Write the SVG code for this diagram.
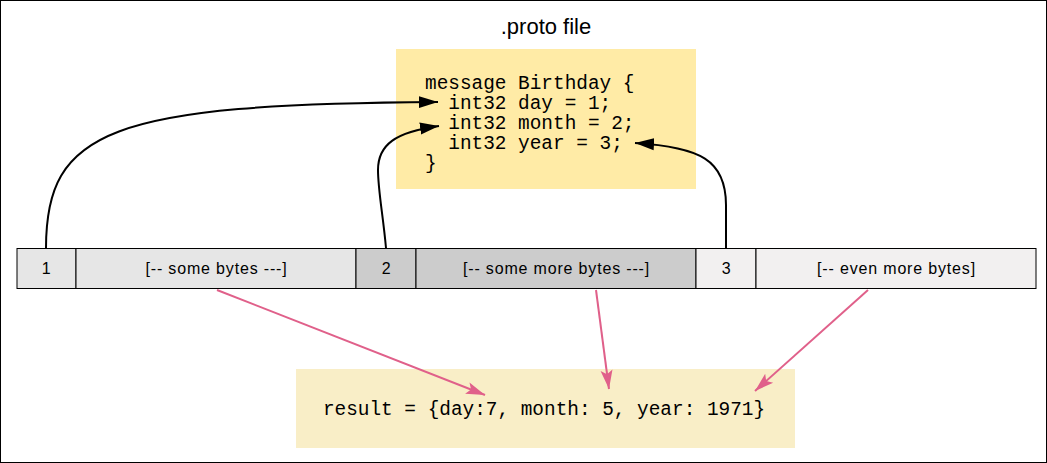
<svg xmlns="http://www.w3.org/2000/svg" width="1047" height="463" viewBox="0 0 1047 463">
<style>
.sans{font-family:"Liberation Sans",Arial,sans-serif;fill:#000}
.mono{font-family:"Liberation Mono","Courier New",monospace;font-size:19.4px;fill:#000}
.cell{stroke:#000;stroke-width:1}
.lbl{font-size:16px;letter-spacing:0.83px;text-anchor:middle}
.blk{fill:none;stroke:#000;stroke-width:2}
.pink{fill:none;stroke:#E0608A;stroke-width:2}
</style>
<defs>
<marker id="ab" markerUnits="userSpaceOnUse" markerWidth="20" markerHeight="14" refX="19" refY="7" orient="auto" viewBox="0 0 20 14">
<path d="M0 1 L19 7 L0 13 Z" fill="#000"/>
</marker>
<marker id="ap" markerUnits="userSpaceOnUse" markerWidth="20" markerHeight="14" refX="19" refY="7" orient="auto" viewBox="0 0 20 14">
<path d="M0 1 L19 7 L0 13 L4 7 Z" fill="#E0608A"/>
</marker>
</defs>
<rect x="0.5" y="0.5" width="1046" height="462" fill="#fff" stroke="#000" stroke-width="1"/>
<g id="title"><text class="sans" x="546" y="34" font-size="22" text-anchor="middle">.proto file</text></g>
<g id="proto">
<rect x="396" y="49" width="300" height="140" fill="#FFEBA6"/>
<text class="mono" x="425" y="89">message Birthday {</text>
<text class="mono" x="425" y="109" xml:space="preserve">  int32 day = 1;</text>
<text class="mono" x="425" y="129" xml:space="preserve">  int32 month = 2;</text>
<text class="mono" x="425" y="149" xml:space="preserve">  int32 year = 3;</text>
<text class="mono" x="425" y="169">}</text>
</g>
<g id="bar">
<g id="c1"><rect class="cell" x="17" y="248.5" width="59" height="40" fill="#E6E6E6"/><text class="sans lbl" x="46.5" y="274">1</text></g>
<g id="b1"><rect class="cell" x="76" y="248.5" width="280" height="40" fill="#E6E6E6"/><text class="sans lbl" x="216.5" y="274">[-- some bytes ---]</text></g>
<g id="c2"><rect class="cell" x="356" y="248.5" width="60" height="40" fill="#CCCCCC"/><text class="sans lbl" x="386.5" y="274">2</text></g>
<g id="b2"><rect class="cell" x="416" y="248.5" width="280" height="40" fill="#CCCCCC"/><text class="sans lbl" x="556.5" y="274">[-- some more bytes ---]</text></g>
<g id="c3"><rect class="cell" x="696" y="248.5" width="60" height="40" fill="#F2F0F0"/><text class="sans lbl" x="726.5" y="274">3</text></g>
<g id="b3"><rect class="cell" x="756" y="248.5" width="280" height="40" fill="#F2F0F0"/><text class="sans lbl" x="896.5" y="274">[-- even more bytes]</text></g>
</g>
<g id="result">
<rect x="296" y="369" width="499" height="79" fill="#F9EEC7"/>
<text class="mono" x="544" y="415" text-anchor="middle">result = {day:7, month: 5, year: 1971}</text>
</g>
<g id="connectors">
<path class="blk" d="M46 248 C46 130 110 104 438 102" marker-end="url(#ab)"/>
<path class="blk" d="M386 248 C383 215 378 190 378 170 C378 145 395 132 439 126" marker-end="url(#ab)"/>
<path class="blk" d="M726 248 L726 205 C726 160 700 147 635 143" marker-end="url(#ab)"/>
<path class="pink" d="M217 290 L485 395" marker-end="url(#ap)"/>
<path class="pink" d="M596 290 L609 389" marker-end="url(#ap)"/>
<path class="pink" d="M868 290 L755 391" marker-end="url(#ap)"/>
</g>
</svg>
